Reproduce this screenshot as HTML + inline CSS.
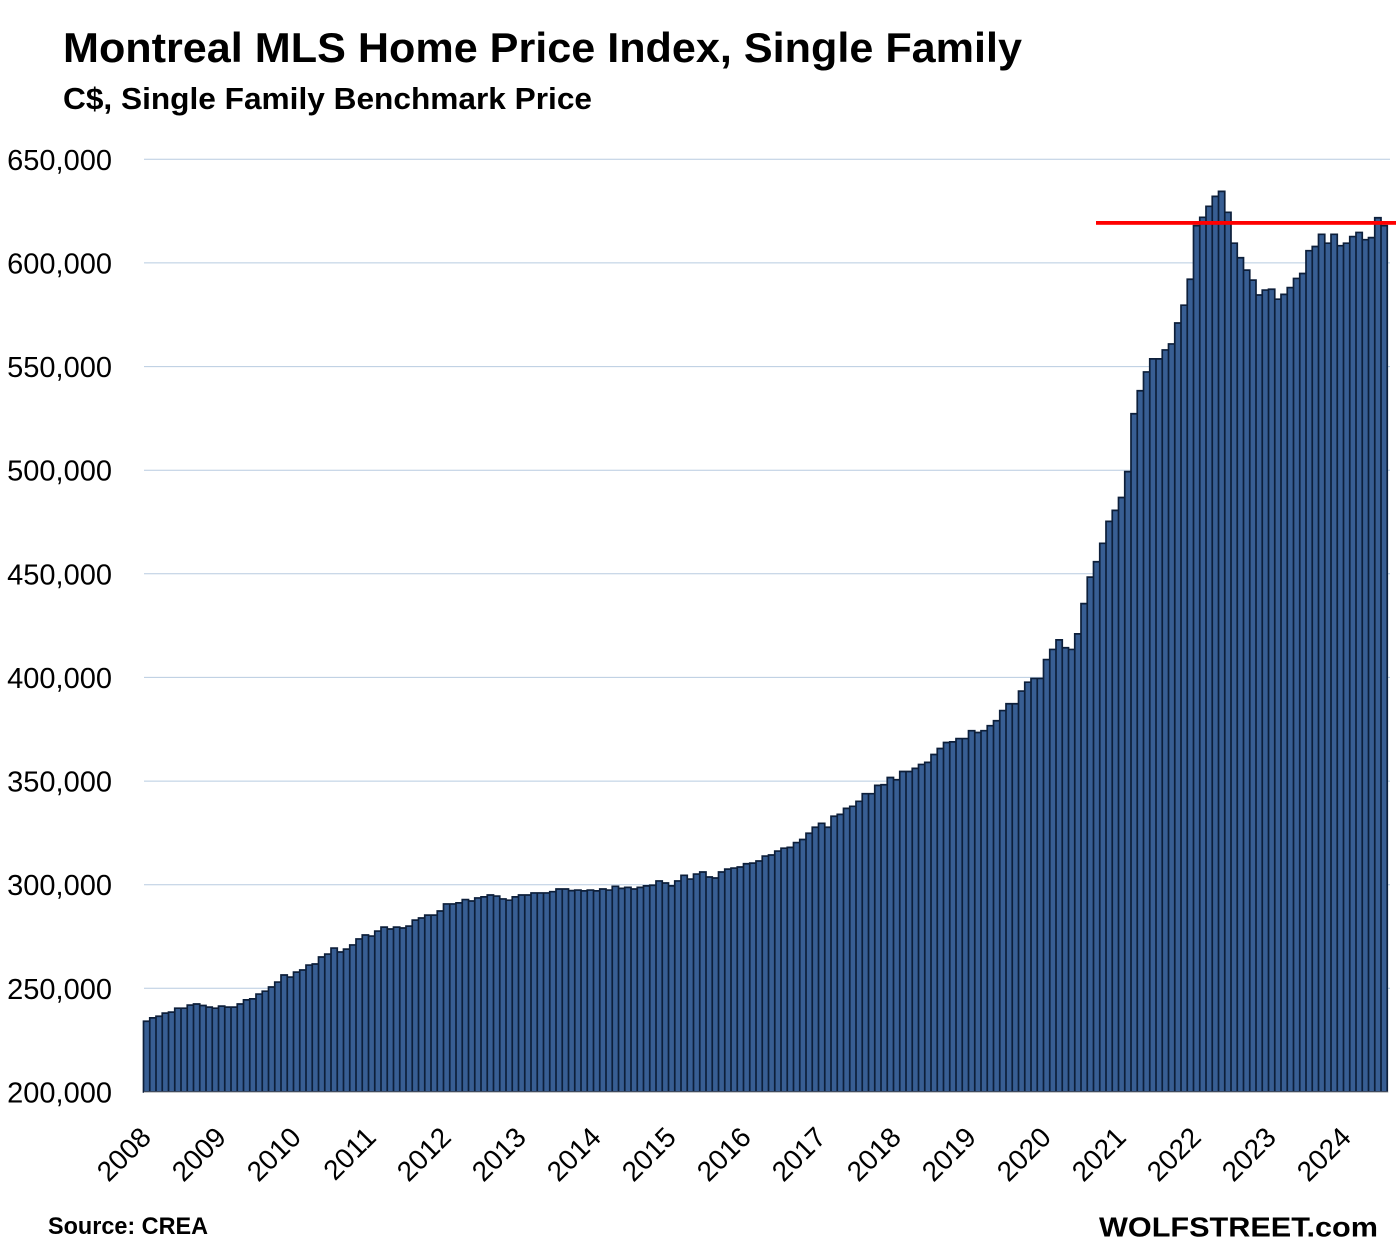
<!DOCTYPE html>
<html>
<head>
<meta charset="utf-8">
<style>
  html, body { margin:0; padding:0; background:#ffffff; }
  svg { display:block; }
  text { font-family: "Liberation Sans", "DejaVu Sans", sans-serif; }
</style>
</head>
<body>
<svg width="1396" height="1252" viewBox="0 0 1396 1252" xmlns="http://www.w3.org/2000/svg">
<rect x="0" y="0" width="1396" height="1252" fill="#ffffff"/>
<text x="63" y="62" font-size="42" font-weight="bold" fill="#000" textLength="959" lengthAdjust="spacingAndGlyphs">Montreal MLS Home Price Index, Single Family</text>
<text x="63" y="109" font-size="31" font-weight="bold" fill="#000" textLength="529" lengthAdjust="spacingAndGlyphs">C$, Single Family Benchmark Price</text>
<g stroke="#b8cce0" stroke-width="1">
<line x1="144" y1="159.3" x2="1390" y2="159.3"/>
<line x1="144" y1="262.9" x2="1390" y2="262.9"/>
<line x1="144" y1="366.6" x2="1390" y2="366.6"/>
<line x1="144" y1="470.2" x2="1390" y2="470.2"/>
<line x1="144" y1="573.8" x2="1390" y2="573.8"/>
<line x1="144" y1="677.4" x2="1390" y2="677.4"/>
<line x1="144" y1="781.1" x2="1390" y2="781.1"/>
<line x1="144" y1="884.7" x2="1390" y2="884.7"/>
<line x1="144" y1="988.3" x2="1390" y2="988.3"/>
</g>
<g font-size="29" fill="#000" text-anchor="end">
<text x="112" y="169.8">650,000</text>
<text x="112" y="273.4">600,000</text>
<text x="112" y="377.1">550,000</text>
<text x="112" y="480.7">500,000</text>
<text x="112" y="584.3">450,000</text>
<text x="112" y="687.9">400,000</text>
<text x="112" y="791.6">350,000</text>
<text x="112" y="895.2">300,000</text>
<text x="112" y="998.8">250,000</text>
<text x="112" y="1102.4">200,000</text>
</g>
<g transform="translate(0,1091.9) scale(1,-2.0725) translate(0,-200)">
<path fill="#385e93" stroke="#0d1f3a" stroke-width="1.7" vector-effect="non-scaling-stroke" d="M143.5 200 V234.1h6.25V200zm6.25 0 V235.7h6.25V200zm6.25 0 V236.5h6.25V200zm6.25 0 V238.0h6.25V200zm6.25 0 V238.5h6.25V200zm6.25 0 V240.4h6.25V200zm6.25 0 V240.4h6.25V200zm6.25 0 V241.9h6.25V200zm6.25 0 V242.4h6.25V200zm6.25 0 V241.7h6.25V200zm6.25 0 V240.9h6.25V200zm6.25 0 V240.4h6.25V200zm6.25 0 V241.4h6.25V200zm6.25 0 V240.9h6.25V200zm6.25 0 V240.9h6.25V200zm6.25 0 V242.4h6.25V200zm6.25 0 V244.4h6.25V200zm6.25 0 V244.9h6.25V200zm6.25 0 V247.2h6.25V200zm6.25 0 V248.6h6.25V200zm6.25 0 V250.6h6.25V200zm6.25 0 V253.0h6.25V200zm6.25 0 V256.4h6.25V200zm6.25 0 V255.4h6.25V200zm6.25 0 V257.8h6.25V200zm6.25 0 V258.8h6.25V200zm6.25 0 V261.2h6.25V200zm6.25 0 V261.7h6.25V200zm6.25 0 V265.1h6.25V200zm6.25 0 V266.5h6.25V200zm6.25 0 V269.4h6.25V200zm6.25 0 V267.5h6.25V200zm6.25 0 V268.9h6.25V200zm6.25 0 V270.9h6.25V200zm6.25 0 V273.8h6.25V200zm6.25 0 V275.7h6.25V200zm6.25 0 V275.2h6.25V200zm6.25 0 V277.6h6.25V200zm6.25 0 V279.5h6.25V200zm6.25 0 V278.6h6.25V200zm6.25 0 V279.5h6.25V200zm6.25 0 V279.1h6.25V200zm6.25 0 V280.0h6.25V200zm6.25 0 V282.9h6.25V200zm6.25 0 V283.9h6.25V200zm6.25 0 V285.3h6.25V200zm6.25 0 V285.3h6.25V200zm6.25 0 V287.3h6.25V200zm6.25 0 V290.7h6.25V200zm6.25 0 V290.7h6.25V200zm6.25 0 V291.2h6.25V200zm6.25 0 V292.8h6.25V200zm6.25 0 V292.1h6.25V200zm6.25 0 V293.6h6.25V200zm6.25 0 V294.1h6.25V200zm6.25 0 V295.0h6.25V200zm6.25 0 V294.5h6.25V200zm6.25 0 V293.1h6.25V200zm6.25 0 V292.5h6.25V200zm6.25 0 V294.1h6.25V200zm6.25 0 V295.0h6.25V200zm6.25 0 V295.0h6.25V200zm6.25 0 V296.0h6.25V200zm6.25 0 V296.0h6.25V200zm6.25 0 V296.0h6.25V200zm6.25 0 V296.6h6.25V200zm6.25 0 V297.9h6.25V200zm6.25 0 V297.9h6.25V200zm6.25 0 V297.1h6.25V200zm6.25 0 V297.4h6.25V200zm6.25 0 V297.0h6.25V200zm6.25 0 V297.4h6.25V200zm6.25 0 V297.0h6.25V200zm6.25 0 V297.9h6.25V200zm6.25 0 V297.4h6.25V200zm6.25 0 V299.2h6.25V200zm6.25 0 V298.2h6.25V200zm6.25 0 V298.7h6.25V200zm6.25 0 V297.9h6.25V200zm6.25 0 V298.7h6.25V200zm6.25 0 V299.4h6.25V200zm6.25 0 V299.7h6.25V200zm6.25 0 V301.8h6.25V200zm6.25 0 V300.8h6.25V200zm6.25 0 V299.4h6.25V200zm6.25 0 V301.8h6.25V200zm6.25 0 V304.5h6.25V200zm6.25 0 V302.7h6.25V200zm6.25 0 V305.1h6.25V200zm6.25 0 V306.1h6.25V200zm6.25 0 V303.7h6.25V200zm6.25 0 V303.2h6.25V200zm6.25 0 V306.1h6.25V200zm6.25 0 V307.5h6.25V200zm6.25 0 V308.0h6.25V200zm6.25 0 V308.5h6.25V200zm6.25 0 V310.1h6.25V200zm6.25 0 V310.4h6.25V200zm6.25 0 V311.4h6.25V200zm6.25 0 V313.8h6.25V200zm6.25 0 V314.3h6.25V200zm6.25 0 V316.2h6.25V200zm6.25 0 V317.6h6.25V200zm6.25 0 V318.0h6.25V200zm6.25 0 V320.3h6.25V200zm6.25 0 V321.8h6.25V200zm6.25 0 V324.8h6.25V200zm6.25 0 V327.7h6.25V200zm6.25 0 V329.6h6.25V200zm6.25 0 V327.7h6.25V200zm6.25 0 V333.0h6.25V200zm6.25 0 V333.9h6.25V200zm6.25 0 V336.8h6.25V200zm6.25 0 V337.8h6.25V200zm6.25 0 V340.2h6.25V200zm6.25 0 V343.9h6.25V200zm6.25 0 V343.9h6.25V200zm6.25 0 V347.9h6.25V200zm6.25 0 V348.2h6.25V200zm6.25 0 V351.7h6.25V200zm6.25 0 V350.6h6.25V200zm6.25 0 V354.6h6.25V200zm6.25 0 V354.6h6.25V200zm6.25 0 V356.1h6.25V200zm6.25 0 V358.0h6.25V200zm6.25 0 V359.0h6.25V200zm6.25 0 V362.8h6.25V200zm6.25 0 V365.7h6.25V200zm6.25 0 V368.6h6.25V200zm6.25 0 V368.9h6.25V200zm6.25 0 V370.5h6.25V200zm6.25 0 V370.5h6.25V200zm6.25 0 V374.3h6.25V200zm6.25 0 V373.4h6.25V200zm6.25 0 V374.3h6.25V200zm6.25 0 V376.7h6.25V200zm6.25 0 V379.1h6.25V200zm6.25 0 V384.0h6.25V200zm6.25 0 V387.3h6.25V200zm6.25 0 V387.3h6.25V200zm6.25 0 V393.4h6.25V200zm6.25 0 V397.7h6.25V200zm6.25 0 V399.5h6.25V200zm6.25 0 V399.5h6.25V200zm6.25 0 V408.6h6.25V200zm6.25 0 V413.5h6.25V200zm6.25 0 V418.1h6.25V200zm6.25 0 V414.3h6.25V200zm6.25 0 V413.5h6.25V200zm6.25 0 V421.0h6.25V200zm6.25 0 V435.6h6.25V200zm6.25 0 V448.4h6.25V200zm6.25 0 V455.8h6.25V200zm6.25 0 V464.7h6.25V200zm6.25 0 V475.3h6.25V200zm6.25 0 V480.6h6.25V200zm6.25 0 V486.8h6.25V200zm6.25 0 V499.3h6.25V200zm6.25 0 V527.2h6.25V200zm6.25 0 V538.3h6.25V200zm6.25 0 V547.4h6.25V200zm6.25 0 V553.7h6.25V200zm6.25 0 V553.7h6.25V200zm6.25 0 V558.0h6.25V200zm6.25 0 V560.9h6.25V200zm6.25 0 V571.0h6.25V200zm6.25 0 V579.6h6.25V200zm6.25 0 V592.1h6.25V200zm6.25 0 V618.0h6.25V200zm6.25 0 V622.0h6.25V200zm6.25 0 V627.3h6.25V200zm6.25 0 V632.1h6.25V200zm6.25 0 V634.5h6.25V200zm6.25 0 V624.4h6.25V200zm6.25 0 V609.5h6.25V200zm6.25 0 V602.5h6.25V200zm6.25 0 V596.5h6.25V200zm6.25 0 V591.7h6.25V200zm6.25 0 V584.5h6.25V200zm6.25 0 V586.9h6.25V200zm6.25 0 V587.3h6.25V200zm6.25 0 V582.5h6.25V200zm6.25 0 V584.8h6.25V200zm6.25 0 V588.1h6.25V200zm6.25 0 V592.5h6.25V200zm6.25 0 V594.9h6.25V200zm6.25 0 V605.9h6.25V200zm6.25 0 V607.9h6.25V200zm6.25 0 V613.8h6.25V200zm6.25 0 V609.5h6.25V200zm6.25 0 V613.8h6.25V200zm6.25 0 V608.3h6.25V200zm6.25 0 V609.5h6.25V200zm6.25 0 V612.7h6.25V200zm6.25 0 V614.7h6.25V200zm6.25 0 V611.2h6.25V200zm6.25 0 V612.2h6.25V200zm6.25 0 V621.8h6.25V200zm6.25 0 V618.0h6.25V200z"/>
</g>
<line x1="144" y1="1092.3" x2="1388" y2="1092.3" stroke="#d0d0d0" stroke-width="1.2"/>
<rect x="1096" y="221" width="300" height="3.8" fill="#ff0000"/>
<g font-size="28" fill="#000" text-anchor="end">
<text transform="translate(152.6,1139) rotate(-45)">2008</text>
<text transform="translate(227.6,1139) rotate(-45)">2009</text>
<text transform="translate(302.6,1139) rotate(-45)">2010</text>
<text transform="translate(377.6,1139) rotate(-45)">2011</text>
<text transform="translate(452.6,1139) rotate(-45)">2012</text>
<text transform="translate(527.6,1139) rotate(-45)">2013</text>
<text transform="translate(602.6,1139) rotate(-45)">2014</text>
<text transform="translate(677.6,1139) rotate(-45)">2015</text>
<text transform="translate(752.6,1139) rotate(-45)">2016</text>
<text transform="translate(827.6,1139) rotate(-45)">2017</text>
<text transform="translate(902.6,1139) rotate(-45)">2018</text>
<text transform="translate(977.6,1139) rotate(-45)">2019</text>
<text transform="translate(1052.6,1139) rotate(-45)">2020</text>
<text transform="translate(1127.6,1139) rotate(-45)">2021</text>
<text transform="translate(1202.6,1139) rotate(-45)">2022</text>
<text transform="translate(1277.6,1139) rotate(-45)">2023</text>
<text transform="translate(1352.6,1139) rotate(-45)">2024</text>
</g>
<text x="48" y="1234" font-size="24" font-weight="bold" fill="#000" textLength="160" lengthAdjust="spacingAndGlyphs">Source: CREA</text>
<text x="1099" y="1236.5" font-size="28" font-weight="bold" fill="#000" textLength="279" lengthAdjust="spacingAndGlyphs">WOLFSTREET.com</text>
</svg>
</body>
</html>
